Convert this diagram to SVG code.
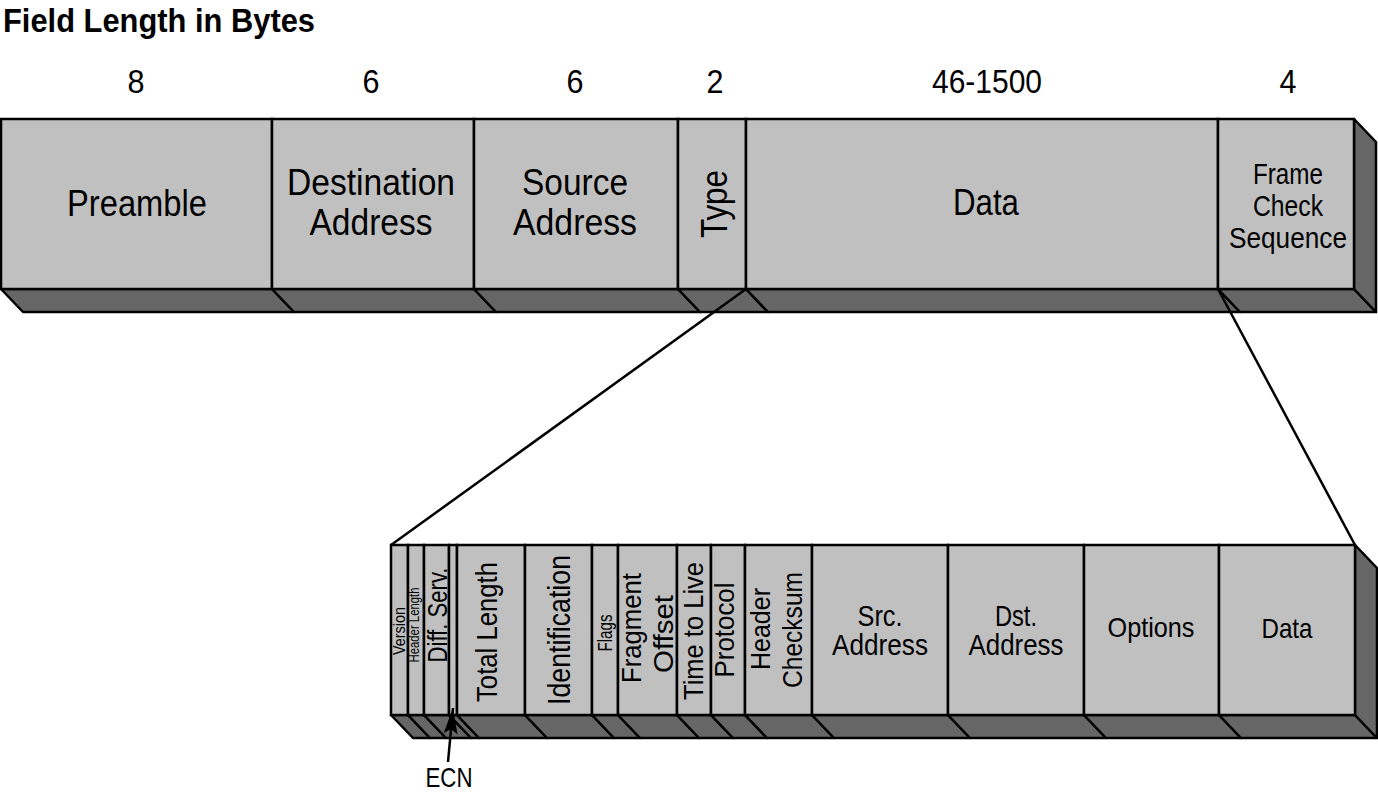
<svg xmlns="http://www.w3.org/2000/svg" width="1378" height="795" viewBox="0 0 1378 795">
<style>
.f{fill:#c0c0c0;stroke:#000;stroke-width:2.5}
.d{fill:#666;stroke:#000;stroke-width:2.5;stroke-linejoin:round}
.t{font-family:"Liberation Sans",Arial,sans-serif;fill:#000;text-anchor:middle}
.c{stroke:#000;stroke-width:2.5;fill:none}
</style>
<defs>
<marker id="ah" viewBox="0 0 26 14" refX="26" refY="7" markerWidth="26" markerHeight="14" markerUnits="userSpaceOnUse" orient="auto">
<path d="M0,0 L26,7 L0,14 L5,7 Z" fill="#000"/>
</marker>
</defs>
<rect width="1378" height="795" fill="#fff"/>
<text class="t" x="3" y="32" font-size="33" font-weight="bold" style="text-anchor:start" textLength="312" lengthAdjust="spacingAndGlyphs">Field Length in Bytes</text>

<g id="lengths" class="t" font-size="34">
<text x="136" y="93" textLength="17" lengthAdjust="spacingAndGlyphs">8</text>
<text x="371" y="93" textLength="17" lengthAdjust="spacingAndGlyphs">6</text>
<text x="575" y="93" textLength="17" lengthAdjust="spacingAndGlyphs">6</text>
<text x="715" y="93" textLength="17" lengthAdjust="spacingAndGlyphs">2</text>
<text x="987" y="93" textLength="110" lengthAdjust="spacingAndGlyphs">46-1500</text>
<text x="1288" y="93" textLength="17" lengthAdjust="spacingAndGlyphs">4</text>
</g>

<g id="eth-preamble">
<polygon class="d" points="1,289 272,289 294,312 23,312"/>
<rect class="f" x="1" y="119" width="271" height="170"/>
<text class="t" x="137" y="216" font-size="36" textLength="140" lengthAdjust="spacingAndGlyphs">Preamble</text>
</g>
<g id="eth-dst">
<polygon class="d" points="272,289 474,289 496,312 294,312"/>
<rect class="f" x="272" y="119" width="202" height="170"/>
<text class="t" x="371" y="195" font-size="36" textLength="168" lengthAdjust="spacingAndGlyphs">Destination</text>
<text class="t" x="371" y="235" font-size="36" textLength="123" lengthAdjust="spacingAndGlyphs">Address</text>
</g>
<g id="eth-src">
<polygon class="d" points="474,289 678,289 700,312 496,312"/>
<rect class="f" x="474" y="119" width="204" height="170"/>
<text class="t" x="575" y="195" font-size="36" textLength="106" lengthAdjust="spacingAndGlyphs">Source</text>
<text class="t" x="575" y="235" font-size="36" textLength="124" lengthAdjust="spacingAndGlyphs">Address</text>
</g>
<g id="eth-type">
<polygon class="d" points="678,289 746,289 768,312 700,312"/>
<rect class="f" x="678" y="119" width="68" height="170"/>
<text class="t" font-size="36" transform="translate(727,204) rotate(-90)" textLength="68" lengthAdjust="spacingAndGlyphs">Type</text>
</g>
<g id="eth-data">
<polygon class="d" points="746,289 1218,289 1240,312 768,312"/>
<rect class="f" x="746" y="119" width="472" height="170"/>
<text class="t" x="986" y="215" font-size="36" textLength="66" lengthAdjust="spacingAndGlyphs">Data</text>
</g>
<g id="eth-fcs">
<polygon class="d" points="1218,289 1354,289 1376,312 1240,312"/>
<polygon class="d" points="1354,119 1376,142 1376,312 1354,289"/>
<rect class="f" x="1218" y="119" width="136" height="170"/>
<text class="t" x="1288" y="184" font-size="29" textLength="70" lengthAdjust="spacingAndGlyphs">Frame</text>
<text class="t" x="1288" y="216" font-size="29" textLength="70" lengthAdjust="spacingAndGlyphs">Check</text>
<text class="t" x="1288" y="248" font-size="29" textLength="118" lengthAdjust="spacingAndGlyphs">Sequence</text>
</g>

<g id="ip-version">
<polygon class="d" points="391,715 408,715 430,738 413,738"/>
<rect class="f" x="391" y="545" width="17" height="170"/>
<text class="t" font-size="16" transform="translate(405,631) rotate(-90)" textLength="48" lengthAdjust="spacingAndGlyphs">Version</text>
</g>
<g id="ip-hlen">
<polygon class="d" points="408,715 424,715 446,738 430,738"/>
<rect class="f" x="408" y="545" width="16" height="170"/>
<text class="t" font-size="15" transform="translate(419,625) rotate(-90)" textLength="75" lengthAdjust="spacingAndGlyphs">Header Length</text>
</g>
<g id="ip-diffserv">
<polygon class="d" points="424,715 449,715 471,738 446,738"/>
<rect class="f" x="424" y="545" width="25" height="170"/>
<text class="t" font-size="27" transform="translate(447,615) rotate(-90)" textLength="95" lengthAdjust="spacingAndGlyphs">Diff. Serv.</text>
</g>
<g id="ip-ecn">
<polygon class="d" points="449,715 457,715 479,738 471,738"/>
<rect class="f" x="449" y="545" width="8" height="170"/>
<text class="t" x="449" y="787" font-size="28" textLength="47" lengthAdjust="spacingAndGlyphs">ECN</text>
</g>
<g id="ip-totlen">
<polygon class="d" points="457,715 525,715 547,738 479,738"/>
<rect class="f" x="457" y="545" width="68" height="170"/>
<text class="t" font-size="30" transform="translate(497,632) rotate(-90)" textLength="140" lengthAdjust="spacingAndGlyphs">Total Length</text>
</g>
<g id="ip-ident">
<polygon class="d" points="525,715 592,715 614,738 547,738"/>
<rect class="f" x="525" y="545" width="67" height="170"/>
<text class="t" font-size="31" transform="translate(570,630) rotate(-90)" textLength="150" lengthAdjust="spacingAndGlyphs">Identification</text>
</g>
<g id="ip-flags">
<polygon class="d" points="592,715 618,715 640,738 614,738"/>
<rect class="f" x="592" y="545" width="26" height="170"/>
<text class="t" font-size="21" transform="translate(612,633) rotate(-90)" textLength="37" lengthAdjust="spacingAndGlyphs">Flags</text>
</g>
<g id="ip-fragoff">
<polygon class="d" points="618,715 677,715 699,738 640,738"/>
<rect class="f" x="618" y="545" width="59" height="170"/>
<text class="t" font-size="27" transform="translate(641,628) rotate(-90)" textLength="110" lengthAdjust="spacingAndGlyphs">Fragment</text>
<text class="t" font-size="27" transform="translate(673,634) rotate(-90)" textLength="78" lengthAdjust="spacingAndGlyphs">Offset</text>
</g>
<g id="ip-ttl">
<polygon class="d" points="677,715 711,715 733,738 699,738"/>
<rect class="f" x="677" y="545" width="34" height="170"/>
<text class="t" font-size="28" transform="translate(703,631) rotate(-90)" textLength="138" lengthAdjust="spacingAndGlyphs">Time to Live</text>
</g>
<g id="ip-proto">
<polygon class="d" points="711,715 745,715 767,738 733,738"/>
<rect class="f" x="711" y="545" width="34" height="170"/>
<text class="t" font-size="28" transform="translate(734,630) rotate(-90)" textLength="95" lengthAdjust="spacingAndGlyphs">Protocol</text>
</g>
<g id="ip-checksum">
<polygon class="d" points="745,715 812,715 834,738 767,738"/>
<rect class="f" x="745" y="545" width="67" height="170"/>
<text class="t" font-size="27" transform="translate(770,629) rotate(-90)" textLength="82" lengthAdjust="spacingAndGlyphs">Header</text>
<text class="t" font-size="27" transform="translate(802,630) rotate(-90)" textLength="116" lengthAdjust="spacingAndGlyphs">Checksum</text>
</g>
<g id="ip-src">
<polygon class="d" points="812,715 948,715 970,738 834,738"/>
<rect class="f" x="812" y="545" width="136" height="170"/>
<text class="t" x="880" y="626" font-size="29" textLength="45" lengthAdjust="spacingAndGlyphs">Src.</text>
<text class="t" x="880" y="655" font-size="29" textLength="96" lengthAdjust="spacingAndGlyphs">Address</text>
</g>
<g id="ip-dst">
<polygon class="d" points="948,715 1084,715 1106,738 970,738"/>
<rect class="f" x="948" y="545" width="136" height="170"/>
<text class="t" x="1016" y="626" font-size="29" textLength="42" lengthAdjust="spacingAndGlyphs">Dst.</text>
<text class="t" x="1016" y="655" font-size="29" textLength="95" lengthAdjust="spacingAndGlyphs">Address</text>
</g>
<g id="ip-options">
<polygon class="d" points="1084,715 1219,715 1241,738 1106,738"/>
<rect class="f" x="1084" y="545" width="135" height="170"/>
<text class="t" x="1151" y="637" font-size="28" textLength="87" lengthAdjust="spacingAndGlyphs">Options</text>
</g>
<g id="ip-data">
<polygon class="d" points="1219,715 1355,715 1377,738 1241,738"/>
<polygon class="d" points="1355,545 1377,568 1377,738 1355,715"/>
<rect class="f" x="1219" y="545" width="136" height="170"/>
<text class="t" x="1287" y="638" font-size="28" textLength="51" lengthAdjust="spacingAndGlyphs">Data</text>
</g>

<g id="connectors">
<line class="c" x1="746" y1="289" x2="391" y2="545"/>
<line class="c" x1="1218" y1="289" x2="1355" y2="545"/>
<line class="c" x1="448" y1="762" x2="453" y2="708" marker-end="url(#ah)"/>
</g>
</svg>
